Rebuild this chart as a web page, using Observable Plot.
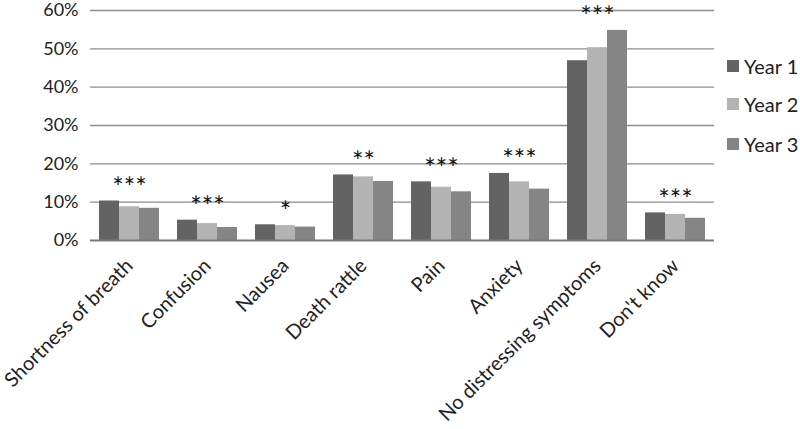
<!DOCTYPE html>
<html><head><meta charset="utf-8">
<script src="https://cdn.jsdelivr.net/npm/d3@7"></script>
<script src="https://cdn.jsdelivr.net/npm/@observablehq/plot@0.6"></script>
<style>
body{margin:0;background:#fff;font-family:Lato,"Open Sans",sans-serif;}
#wrap{position:relative;width:800px;height:429px;overflow:hidden;}
.leg{position:absolute;left:727px;display:flex;align-items:center;font-size:20px;color:#222;white-space:nowrap;}
.sw{width:12px;height:12px;margin-right:5px;}
</style></head><body><div id="wrap"></div>
<script>
const categories = ["Shortness of breath","Confusion","Nausea","Death rattle","Pain","Anxiety","No distressing symptoms","Don't know"];
const years = ["Year 1","Year 2","Year 3"];
const year1 = [10.3, 5.3, 4.1, 17.1, 15.3, 17.5, 46.9, 7.2];
const year2 = [8.8, 4.4, 3.9, 16.6, 13.9, 15.3, 50.3, 6.8];
const year3 = [8.4, 3.4, 3.5, 15.4, 12.7, 13.4, 54.8, 5.8];
const significance = ["***","***","*","**","***","***","***","***"];
const yTicks = [0, 10, 20, 30, 40, 50, 60];
const colors = ["#636363", "#b3b3b3", "#858585"];

const series = [year1, year2, year3];
const data = categories.flatMap((c, i) => series.map((s, j) => ({category: c, year: years[j], value: s[i]})));
const stars = categories.map((c, i) => ({category: c, label: significance[i], top: Math.max(year1[i], year2[i], year3[i])}));

const chart = Plot.plot({
  width: 800, height: 429,
  marginLeft: 89, marginRight: 85, marginTop: 10, marginBottom: 189,
  style: {fontFamily: "Lato, 'Open Sans', sans-serif", fontSize: "18px", color: "#222", background: "#fff", overflow: "visible"},
  fx: {domain: categories, padding: 0, axis: "bottom", tickRotate: -45, label: null, tickSize: 0, tickPadding: 22},
  x: {domain: years, axis: null, paddingInner: 0, paddingOuter: 0.36},
  y: {domain: [0, 60], ticks: yTicks, tickFormat: d => d + "%", tickSize: 0, tickPadding: 12, label: null},
  color: {domain: years, range: colors},
  marks: [
    Plot.ruleY(yTicks.filter(d => d > 0), {stroke: "#8c8c8c", strokeWidth: 1.3}),
    Plot.barY(data, {fx: "category", x: "year", y: "value", fill: "year"}),
    Plot.ruleY([0], {stroke: "#7a7a7a", strokeWidth: 2}),
    Plot.text(stars, {fx: "category", y: "top", text: "label", dy: -4, lineAnchor: "bottom", fontSize: 27, fill: "#111"})
  ]
});
chart.querySelectorAll("g[aria-label='fx-axis tick label'] text, g[aria-label='fx-axis'] text").forEach(t => { t.style.fontSize = "20px"; });
const wrap = document.getElementById("wrap");
wrap.appendChild(chart);
const legTops = [66, 104, 144];
years.forEach((y, i) => {
  const d = document.createElement("div");
  d.className = "leg";
  d.style.top = (legTops[i] - 12) + "px";
  d.style.height = "24px";
  d.innerHTML = `<div class="sw" style="background:${colors[i]}"></div><span>${y}</span>`;
  wrap.appendChild(d);
});
</script></body></html>
